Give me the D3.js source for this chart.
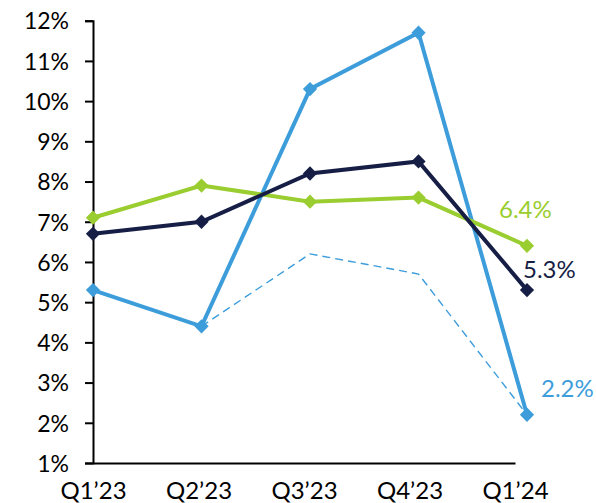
<!DOCTYPE html>
<html>
<head>
<meta charset="utf-8">
<script src="https://cdn.jsdelivr.net/npm/d3@7"></script>
<style>
  body { margin: 0; background: #fff; }
  text { font-family: Lato, "Open Sans", sans-serif; }
</style>
</head>
<body>
<svg id="chart"></svg>
<script>
const quarters = ["Q1\u201923", "Q2\u201923", "Q3\u201923", "Q4\u201923", "Q1\u201924"];
const yTicks = [1, 2, 3, 4, 5, 6, 7, 8, 9, 10, 11, 12];

const navyValues = [6.7, 7.0, 8.2, 8.5, 5.3];
const greenValues = [7.1, 7.9, 7.5, 7.6, 6.4];
const blueValues = [5.3, 4.4, 10.3, 11.7, 2.2];
const dashedValues = [null, 4.4, 6.2, 5.7, 2.2];

const width = 596;
const height = 503;

const svg = d3.select("#chart").attr("width", width).attr("height", height);

// labels sit on a slightly narrower axis than the points
const xAxisScale = d3.scalePoint().domain(quarters).range([93, 515]);
const xScale = d3.scalePoint().domain(quarters).range([93, 527]);
const yScale = d3.scaleLinear().domain([1, 12]).range([463, 20.7]);

const yAxis = d3.axisLeft(yScale).tickValues(yTicks)
  .tickFormat((d) => d + "%").tickSize(8).tickPadding(16);

const gy = svg.append("g").attr("transform", "translate(93,0)").call(yAxis);
gy.select(".domain").attr("stroke", "#000").attr("stroke-width", 2);
gy.selectAll(".tick line").attr("stroke", "#000").attr("stroke-width", 2);
gy.selectAll(".tick text").attr("fill", "#000").style("font-size", "23px")
  .attr("dy", "0.36em");

const xAxis = d3.axisBottom(xAxisScale).tickSize(0).tickPadding(19);
const gx = svg.append("g").attr("transform", "translate(0,463)").call(xAxis);
gx.select(".domain").attr("stroke", "#000").attr("stroke-width", 2);
gx.selectAll(".tick text").attr("fill", "#000").style("font-size", "24px");

const line = d3.line()
  .defined((d) => d != null)
  .x((d, i) => xScale(quarters[i]))
  .y((d) => yScale(d));

const diamond = d3.symbol().type(d3.symbolDiamond2).size(130);

const series = [
  { values: dashedValues, color: "#3d9ddb", width: 1.4, dash: "8,5", marker: false },
  { values: blueValues, color: "#3d9ddb", width: 4, marker: true },
  { values: greenValues, color: "#9acd2f", width: 4, marker: true },
  { values: navyValues, color: "#161e45", width: 4, marker: true },
];

series.forEach((s) => {
  svg.append("path")
    .datum(s.values)
    .attr("fill", "none")
    .attr("stroke", s.color)
    .attr("stroke-width", s.width)
    .attr("stroke-dasharray", s.dash || null)
    .attr("d", line);
  if (s.marker) {
    svg.selectAll(null)
      .data(s.values)
      .enter()
      .append("path")
      .attr("d", diamond)
      .attr("fill", s.color)
      .attr("transform", (d, i) => "translate(" + xScale(quarters[i]) + "," + yScale(d) + ")");
  }
});

const endLabels = [
  { value: greenValues[4], color: "#9acd2f", dx: -28, dy: -28 },
  { value: navyValues[4], color: "#161e45", dx: -4, dy: -12 },
  { value: blueValues[4], color: "#3d9ddb", dx: 14, dy: -18 },
];

svg.selectAll(null)
  .data(endLabels)
  .enter()
  .append("text")
  .attr("x", (d) => xScale(quarters[4]) + d.dx)
  .attr("y", (d) => yScale(d.value) + d.dy)
  .attr("fill", (d) => d.color)
  .style("font-size", "24px")
  .text((d) => d.value.toFixed(1) + "%");
</script>
</body>
</html>
